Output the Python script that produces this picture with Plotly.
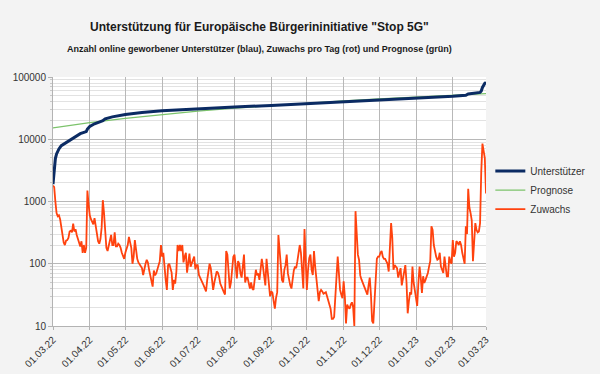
import pandas as pd
import plotly.graph_objects as go

# ---------------- data ----------------
# daily growth (Zuwachs pro Tag), 01.03.22 .. 01.03.23
zuwachs_mar22 = [1800, 1700, 1000, 650, 580, 600, 520, 370, 290, 220, 200, 235, 240, 260, 330, 340,
                 320, 440, 330, 360, 290, 250, 210, 190, 230, 150, 200, 150, 180, 1500, 900]
zuwachs_apr22 = [600, 520, 480, 430, 540, 400, 310, 230, 210, 250, 380, 1050, 650, 320, 180, 160,
                 200, 230, 290, 200, 200, 320, 190, 190, 210, 200, 180, 150, 135, 120]
zuwachs_may22 = [150, 180, 200, 270, 210, 180, 100, 130, 240, 150, 120, 105, 96, 90, 85, 66,
                 85, 100, 116, 105, 80, 62, 48, 43, 78, 65, 70, 80, 90, 110, 200]
zuwachs_jun22 = [130, 150, 80, 55, 38, 95, 100, 80, 72, 38, 55, 48, 75, 200, 160, 200,
                 160, 200, 105, 130, 150, 72, 110, 145, 90, 105, 120, 130, 82, 95]
zuwachs_jul22 = [95, 66, 60, 55, 52, 45, 40, 36, 55, 80, 100, 85, 60, 38, 50, 66,
                 75, 72, 62, 48, 42, 38, 35, 32, 160, 140, 80, 40, 50, 95, 130]
zuwachs_aug22 = [140, 90, 58, 110, 100, 70, 60, 90, 140, 50, 60, 60, 45, 40, 50, 40,
                 38, 60, 80, 65, 70, 55, 80, 120, 90, 55, 45, 120, 70, 45, 30]
zuwachs_sep22 = [36, 34, 25, 19, 28, 35, 290, 160, 70, 55, 50, 80, 95, 140, 70, 55,
                 45, 40, 60, 78, 90, 85, 110, 170, 200, 150, 80, 40, 360, 150]
zuwachs_oct22 = [38, 80, 123, 140, 80, 66, 160, 90, 60, 40, 25, 35, 38, 36, 33, 34,
                 35, 30, 26, 22, 19, 13, 13, 14, 32, 80, 130, 70, 38, 32, 28]
zuwachs_nov22 = [52, 30, 11, 22, 20, 19, 22, 24, 20, 10, 700, 300, 140, 115, 65, 56,
                 50, 45, 42, 38, 32, 45, 60, 32, 12, 11, 30, 70, 120, 130]
zuwachs_dec22 = [130, 150, 160, 130, 120, 120, 110, 100, 75, 200, 450, 260, 80, 95, 90, 85,
                 60, 75, 85, 45, 60, 80, 95, 50, 16, 25, 35, 32, 90, 50, 35]
zuwachs_jan23 = [24, 21, 49, 90, 60, 34, 63, 49, 55, 63, 71, 90, 110, 400, 350, 200,
                 150, 130, 116, 120, 150, 90, 80, 71, 130, 80, 63, 63, 130, 110, 100]
zuwachs_feb23 = [240, 130, 150, 230, 220, 200, 230, 200, 150, 120, 100, 400, 300, 1600, 800, 650,
                 500, 110, 300, 450, 350, 320, 330, 450, 3000, 8500, 6500, 5000]
zuwachs_mar23 = [1350]

# cumulative supporters (Unterstützer), read at selected dates
unterstuetzer_dates = ["2022-03-01", "2022-03-02", "2022-03-03", "2022-03-04", "2022-03-06",
                       "2022-03-08", "2022-03-12", "2022-03-16", "2022-03-20", "2022-03-24",
                       "2022-03-29", "2022-03-30", "2022-04-01", "2022-04-05", "2022-04-10",
                       "2022-04-12", "2022-04-14", "2022-04-20", "2022-05-01", "2022-05-15",
                       "2022-06-01", "2022-06-15", "2022-07-01", "2022-08-01", "2022-09-01",
                       "2022-10-01", "2022-11-01", "2022-12-01", "2023-01-01", "2023-01-15",
                       "2023-02-01", "2023-02-12", "2023-02-14", "2023-02-24", "2023-02-25",
                       "2023-02-26", "2023-02-27", "2023-02-28", "2023-03-01"]
unterstuetzer_vals = [1900, 3600, 4900, 5800, 7000, 7900, 8800, 9900, 11200, 12300,
                      13300, 14600, 16000, 17700, 19200, 19800, 21300, 22900, 25000, 27000,
                      28700, 29800, 31200, 33000, 35000, 37400, 39200, 41800, 44800, 46800,
                      49000, 51000, 53500, 56500, 59500, 68000, 74500, 79500, 82000]

# forecast (Prognose), read at month starts
prognose_dates = ["2022-03-01", "2022-04-01", "2022-05-01", "2022-06-01", "2022-07-01",
                  "2022-08-01", "2022-09-01", "2022-10-01", "2022-11-01", "2022-12-01",
                  "2023-01-01", "2023-02-01", "2023-03-01"]
prognose_vals = [15200, 18500, 21700, 25000, 28200, 31500, 34800, 38000, 41300, 44500,
                 47800, 51100, 54000]

x_tick_dates = prognose_dates
x_tick_labels = ["01.03.22", "01.04.22", "01.05.22", "01.06.22", "01.07.22", "01.08.22",
                 "01.09.22", "01.10.22", "01.11.22", "01.12.22", "01.01.23", "01.02.23",
                 "01.03.23"]
y_tick_vals = [10, 100, 1000, 10000, 100000]
y_tick_labels = ["10", "100", "1000", "10000", "100000"]

# ---------------- figure ----------------
zuwachs = (zuwachs_mar22 + zuwachs_apr22 + zuwachs_may22 + zuwachs_jun22 + zuwachs_jul22 +
           zuwachs_aug22 + zuwachs_sep22 + zuwachs_oct22 + zuwachs_nov22 + zuwachs_dec22 +
           zuwachs_jan23 + zuwachs_feb23 + zuwachs_mar23)
days = pd.date_range("2022-03-01", "2023-03-01", freq="D")

FONT = "Liberation Sans, Arial, sans-serif"
BLUE = "#0b2b63"
GREEN = "#7cc36b"
RED = "#ff420e"
BG = "#f3f3f3"

fig = go.Figure()
fig.add_trace(go.Scatter(x=prognose_dates, y=prognose_vals, mode="lines", name="Prognose",
                         line=dict(color=GREEN, width=1.2), legendrank=2))
fig.add_trace(go.Scatter(x=unterstuetzer_dates, y=unterstuetzer_vals, mode="lines",
                         name="Unterstützer", line=dict(color=BLUE, width=3), legendrank=1))
fig.add_trace(go.Scatter(x=days, y=zuwachs, mode="lines", name="Zuwachs",
                         line=dict(color=RED, width=1.8), legendrank=3))

minor_vals = [k * 10 ** e for e in range(1, 5) for k in range(2, 10)]

fig.update_layout(
    width=600, height=374,
    margin=dict(l=53, r=114, t=77, b=48, autoexpand=False),
    paper_bgcolor=BG,
    plot_bgcolor="#ffffff",
    font=dict(family=FONT, size=11, color="#333333"),
    showlegend=True,
    legend=dict(x=1.01, y=0.546, xanchor="left", yanchor="middle",
                bgcolor="rgba(0,0,0,0)", font=dict(size=10, color="#333333"),
                tracegroupgap=0, itemwidth=30),
    xaxis=dict(
        type="date", automargin=False,
        range=["2022-03-01", "2023-03-01"],
        tickvals=x_tick_dates, ticktext=x_tick_labels,
        tickangle=-45, tickfont=dict(size=10, color="#333333"),
        showgrid=True, gridcolor="#b8b8b8", gridwidth=1,
        showline=True, linecolor="#b3b3b3", linewidth=1,
        ticks="outside", ticklen=3, tickcolor="#b3b3b3",
        zeroline=False,
    ),
    yaxis=dict(
        type="log", range=[1, 5], automargin=False,
        tickvals=y_tick_vals, ticktext=y_tick_labels,
        tickfont=dict(size=10, color="#333333"),
        showgrid=True, gridcolor="#b8b8b8", gridwidth=1,
        showline=True, linecolor="#b3b3b3", linewidth=1,
        ticks="outside", ticklen=4, tickcolor="#b3b3b3",
        minor=dict(tickvals=minor_vals, showgrid=True, gridcolor="#e2e2e2",
                   ticks="outside", ticklen=2, tickcolor="#c8c8c8"),
        zeroline=False,
    ),
    annotations=[
        dict(text='<b>Unterstützung für Europäische Bürgerininitiative "Stop 5G"</b>',
             xref="paper", yref="paper", x=0.478, y=1.2, xanchor="center", yanchor="middle",
             showarrow=False, font=dict(family=FONT, size=12, color="#1a1a1a")),
        dict(text="<b>Anzahl online geworbener Unterstützer (blau), Zuwachs pro Tag (rot) und Prognose (grün)</b>",
             xref="paper", yref="paper", x=0.478, y=1.112, xanchor="center", yanchor="middle",
             showarrow=False, font=dict(family=FONT, size=9, color="#1a1a1a")),
    ],
)

fig.write_html("out.html",
               config={"displayModeBar": False},
               post_script="document.body.style.margin='0';document.body.style.padding='0';"
                           "document.body.style.background='" + BG + "';")
